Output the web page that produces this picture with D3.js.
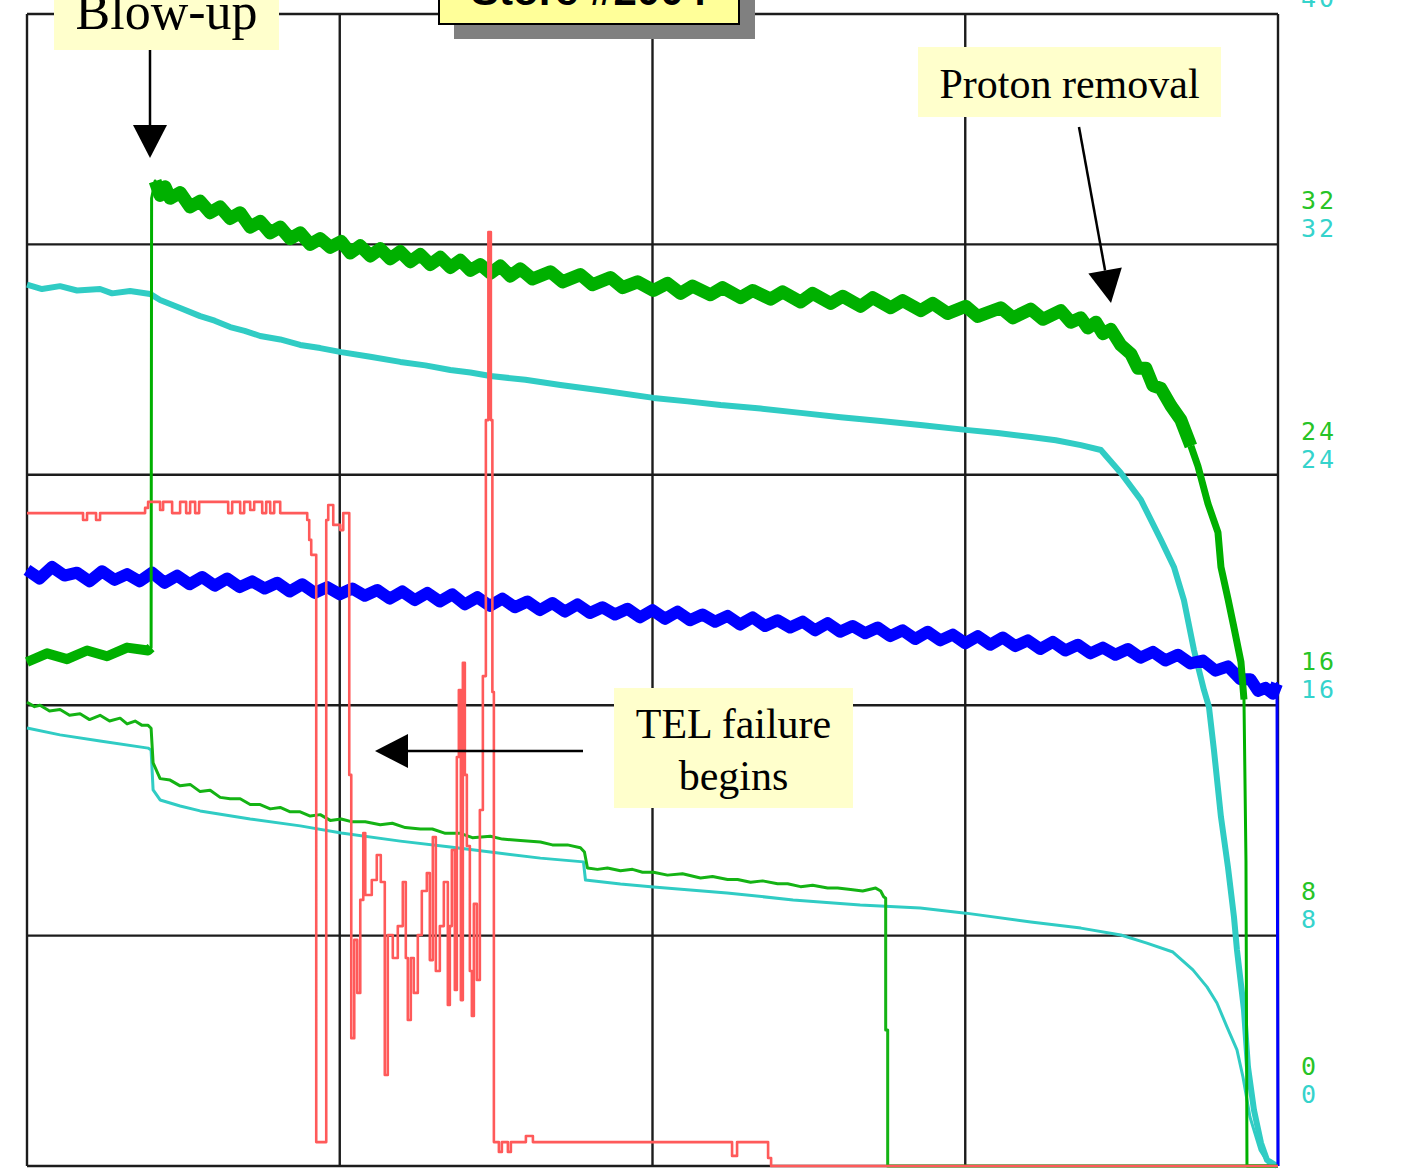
<!DOCTYPE html>
<html>
<head>
<meta charset="utf-8">
<script src="https://cdn.jsdelivr.net/npm/d3@7"></script>
<style>
  body { margin: 0; background: #fff; overflow: hidden; }
</style>
</head>
<body>
<div id="chart"></div>
<script>
// scope divisions: 4 across, 5 up; right-hand scale reads 0..40
const xDivisions = [0, 62.5, 125, 187.5, 250];
const yTicks = [0, 8, 16, 24, 32, 40];

// upper green trace (heavy noise), [time, value]
const greenUpper = [[0,17.5],[4,17.8],[8,17.6],[12,17.9],[16,17.7],[20,18.0],[24.2,17.9],[24.8,18.0],[24.9,33.6],
  [25.6,34.2],[26.6,33.7],[27.6,34.0],[28.6,33.6],[30.6,33.8],[32.6,33.3],[34.6,33.5],[36.6,33.1],[38.6,33.3],
  [40.6,32.9],[42.6,33.1],[44.6,32.6],[46.6,32.8],[48.6,32.4],[50.6,32.6],[52.6,32.2],[54.6,32.4],[56.6,32.0],
  [58.6,32.2],[60.6,31.9],[62.8,32.1],[64.6,31.7],[66.6,31.95],[68.6,31.6],[70.6,31.85],[72.6,31.5],[74.6,31.75],
  [76.6,31.4],[78.6,31.65],[80.6,31.3],[82.6,31.55],[84.6,31.2],[86.6,31.45],[88.6,31.1],[90.6,31.3],[92.6,31.0],
  [94.6,31.25],[96.6,30.9],[98.6,31.15],[101,30.8],[104.6,31.05],[107,30.7],[110.6,30.95],[113,30.6],[116.6,30.85],
  [119,30.5],[122,30.7],[125.2,30.4],[128,30.65],[130.6,30.3],[133,30.55],[136.6,30.25],[139,30.5],[142.6,30.15],
  [145,30.4],[148.6,30.1],[151,30.35],[154.6,30.0],[157,30.3],[160.6,29.95],[163,30.2],[166.6,29.85],[169,30.15],
  [172.6,29.8],[175,30.05],[178.6,29.7],[181,29.95],[184,29.6],[187.6,29.85],[190,29.5],[194.6,29.8],[197,29.45],
  [200.6,29.75],[203,29.4],[206.6,29.7],[208.6,29.3],[210.6,29.45],[212,29.1],[213.6,29.3],[215,28.9],[216.6,29.05],
  [218.6,28.5],[220.6,28.2],[222,27.7],[223.6,27.7],[225,27.1],[226.6,27.0],[228.6,26.4],[230.6,25.9],[232.6,25.0],
  [234,24.3],[236,23.0],[238,22.0],[238.6,20.8],[240,19.7],[241.2,18.7],[242.6,17.5],[243.2,16.2],[243.6,10.6],
  [243.8,0],[250,0]];

// upper cyan trace
const cyanUpper = [[0,30.6],[3,30.45],[6.6,30.55],[10,30.4],[14.6,30.45],[17,30.3],[20.6,30.38],[24.6,30.28],
  [26.6,30.07],[30.6,29.79],[34.6,29.51],[37.5,29.35],[40.6,29.13],[43.5,29.0],[46.6,28.82],[50.6,28.7],[54.6,28.51],
  [58.6,28.4],[62.8,28.26],[68.6,28.1],[74.6,27.92],[79.6,27.8],[84.6,27.64],[88.6,27.55],[92.6,27.43],[99.6,27.3],
  [106.6,27.12],[116,26.9],[125.2,26.67],[132,26.55],[138.6,26.42],[146.6,26.3],[154.6,26.15],[162.6,26.0],
  [170.6,25.87],[179,25.72],[187.6,25.56],[194,25.45],[200.6,25.31],[205.6,25.2],[210.6,25.03],[214.6,24.86],
  [218.6,24.06],[222.6,23.13],[226.6,21.74],[229.2,20.8],[231.2,19.65],[233.2,17.92],[235.2,16.53],[236.2,15.94],
  [237.2,14.44],[238.6,12.12],[240.0,10.38],[241.2,8.65],[241.8,7.5],[243.2,5.42],[244.0,3.44],[245.2,1.94],
  [246.6,0.8],[247.8,0.21],[249.8,0]];

// blue trace (heavy noise)
const blue = [[0,20.7],[2.5,20.4],[5,20.8],[7.5,20.5],[10,20.6],[12.5,20.3],[15,20.65],[17.5,20.35],[20,20.55],
  [22.5,20.3],[25,20.6],[27.5,20.25],[30,20.5],[32.5,20.2],[35,20.45],[37.5,20.15],[40,20.4],[42.5,20.1],[45,20.3],
  [47.5,20.05],[50,20.25],[52.5,19.95],[55,20.2],[57.5,19.9],[60,20.1],[62.5,19.85],[65,20.05],[67.5,19.8],[70,20.0],
  [72.5,19.7],[75,19.95],[77.5,19.65],[80,19.9],[82.5,19.6],[85,19.85],[87.5,19.5],[90,19.75],[92.5,19.45],[95,19.7],
  [97.5,19.4],[100,19.6],[102.5,19.3],[105,19.55],[107.5,19.25],[110,19.5],[112.5,19.2],[115,19.4],[117.5,19.15],
  [120,19.35],[122.5,19.05],[125,19.3],[127.5,19.0],[130,19.25],[132.5,18.95],[135,19.15],[137.5,18.9],[140,19.1],
  [142.5,18.8],[145,19.05],[147.5,18.75],[150,18.95],[152.5,18.7],[155,18.9],[157.5,18.6],[160,18.85],[162.5,18.55],
  [165,18.75],[167.5,18.5],[170,18.7],[172.5,18.4],[175,18.6],[177.5,18.3],[180,18.55],[182.5,18.25],[185,18.45],
  [187.5,18.15],[190,18.4],[192.5,18.1],[195,18.35],[197.5,18.05],[200,18.25],[202.5,17.95],[205,18.2],[207.5,17.9],
  [210,18.1],[212.5,17.8],[215,18.0],[217.5,17.75],[220,17.95],[222.5,17.65],[225,17.85],[227.5,17.55],[230,17.75],
  [232.5,17.45],[235,17.55],[237.5,17.2],[240,17.35],[242.5,16.9],[244.5,16.9],[246,16.5],[247.5,16.6],[249,16.4],
  [249.8,16.75],[250,0]];

// lower green trace
const greenLower = [[0,16.1],[1.5,15.95],[2.6,16.0],[4.5,15.8],[6.6,15.85],[8.5,15.65],[10.6,15.7],[12.5,15.5],
  [14.6,15.65],[16.5,15.45],[18.6,15.55],[20,15.35],[21.6,15.45],[23,15.3],[24.2,15.3],[24.8,15.2],[25.2,14.0],
  [26.6,13.45],[28.6,13.4],[30.6,13.2],[32.6,13.25],[34.6,13.0],[36.6,13.05],[38.6,12.8],[40.6,12.75],[42.6,12.75],
  [44.6,12.55],[46.6,12.55],[48.6,12.4],[50.6,12.45],[52.6,12.3],[54.6,12.3],[56.6,12.15],[58.6,12.2],[60.6,12.0],
  [62.8,12.05],[65,11.95],[67.6,11.95],[70.6,11.85],[73,11.9],[75.6,11.75],[78.6,11.7],[81,11.7],[83.6,11.55],
  [86.6,11.55],[89,11.4],[92.6,11.45],[95,11.35],[98.6,11.3],[102.6,11.25],[105,11.15],[108,11.15],[110.6,11.05],
  [111.4,10.9],[112,10.35],[114,10.3],[116,10.35],[118.6,10.25],[121,10.3],[123,10.2],[125.2,10.2],[128,10.1],
  [131,10.15],[134.6,10.0],[137,10.05],[140,9.95],[142,9.95],[144.6,9.85],[147,9.9],[150,9.8],[152,9.8],[154.6,9.7],
  [157,9.75],[160,9.65],[162,9.65],[164.6,9.6],[167,9.55],[169.6,9.65],[170.6,9.55],[171.2,9.35],[171.6,9.3],
  [171.6,4.72],[172,4.72],[172,0],[250,0]];

// lower cyan trace
const cyanLower = [[0,15.21],[6.6,14.97],[14.6,14.76],[24.2,14.51],[24.8,14.44],[25.2,13.06],[26.6,12.71],
  [30.6,12.5],[34.6,12.33],[44.6,12.05],[54.6,11.81],[62.8,11.56],[74.6,11.28],[84.6,11.08],[92.6,10.9],
  [102.6,10.69],[111.2,10.56],[111.6,9.93],[118.6,9.79],[125.2,9.69],[139.9,9.48],[153.1,9.24],[166.5,9.06],
  [178.5,8.96],[187.6,8.78],[200.6,8.47],[210.6,8.26],[218.6,8.02],[223.8,7.74],[229.0,7.43],[233.0,6.81],
  [235.8,6.22],[237.8,5.66],[239.8,4.83],[241.8,4.03],[243.0,3.09],[244.4,1.7],[246.4,0.56],[248.4,0],[250,0]];

// red trace, sampled/held (step after)
const red = [[0,22.67],[11.2,22.43],[12.0,22.67],[13.8,22.43],[14.6,22.67],[23.6,22.85],[24.2,23.06],[26.6,22.78],
  [27.2,23.06],[29.0,22.67],[30.6,23.06],[31.8,22.67],[32.6,23.06],[33.6,22.67],[34.4,23.06],[40.2,22.67],[41.0,23.06],
  [42.6,22.67],[43.4,23.06],[44.6,22.78],[45.4,23.06],[47.0,22.67],[47.8,23.06],[48.6,22.67],[49.4,23.06],[50.6,22.67],
  [56.0,22.43],[56.4,21.74],[56.8,21.22],[57.8,0.83],[59.8,22.43],[60.2,22.95],[61.2,22.26],[62.6,22.08],[63.2,22.67],
  [64.4,13.58],[64.8,4.44],[65.4,7.85],[66.0,6.01],[66.6,9.24],[67.2,11.56],[67.6,9.41],[68.9,9.93],[69.9,10.8],
  [70.7,9.86],[71.5,3.16],[72.1,8.02],[73.1,7.22],[74.1,8.33],[75.1,9.86],[75.7,7.22],[76.1,5.07],[76.7,7.22],
  [77.3,6.01],[78.1,8.02],[78.9,9.55],[79.9,10.17],[80.5,7.15],[81.1,11.42],[81.7,6.77],[82.5,8.33],[83.3,9.86],
  [84.1,5.59],[84.5,8.33],[84.9,10.97],[85.5,6.11],[85.9,14.2],[86.3,16.53],[86.7,5.76],[87.1,17.47],[87.5,13.58],
  [87.9,11.11],[88.5,6.77],[88.9,5.21],[89.3,9.1],[89.9,6.46],[90.5,12.36],[91.1,17.01],[91.7,25.9],[92.2,32.43],
  [92.7,25.9],[93.0,16.46],[93.3,0.83],[94.3,0.49],[94.9,0.83],[96.1,0.49],[96.7,0.83],[99.7,1.04],[101.1,0.83],
  [140.9,0.35],[141.9,0.83],[148.1,0.28],[148.7,0],[250,0]];

const W = 1428, H = 1171;
const x = d3.scaleLinear().domain([0, 250]).range([27, 1278]);
const y = d3.scaleLinear().domain([0, 40]).range([1166, 14]);

const svg = d3.select('#chart').append('svg')
    .attr('width', W)
    .attr('height', H);
svg.append('rect').attr('width', W).attr('height', H).attr('fill', '#fff');

// grid
const grid = svg.append('g').attr('stroke', '#1c1c1c').attr('stroke-width', 2.4);
grid.append('g').selectAll('line')
    .data(yTicks)
    .join('line')
    .attr('x1', x(0)).attr('x2', x(250))
    .attr('y1', d => y(d)).attr('y2', d => y(d));
grid.append('g').selectAll('line')
    .data(xDivisions)
    .join('line')
    .attr('y1', y(0)).attr('y2', y(40))
    .attr('x1', d => x(d)).attr('x2', d => x(d));

// right-hand channel scales (green above, cyan below)
const labels = svg.append('g')
    .attr('font-family', '"DejaVu Sans Mono", monospace')
    .attr('font-size', 25)
    .attr('letter-spacing', 3);
yTicks.forEach(v => {
    const base = v === 0 ? y(v) - 100 : y(v) - 44;
    labels.append('text').attr('x', 1301).attr('y', base).attr('dy', '0.35em')
        .attr('fill', '#27c427').text(v);
    labels.append('text').attr('x', 1301).attr('y', base + 28).attr('dy', '0.35em')
        .attr('fill', '#35d3cc').text(v);
});

const line = d3.line().x(d => x(d[0])).y(d => y(d[1]));
const stepLine = d3.line().x(d => x(d[0])).y(d => y(d[1])).curve(d3.curveStepAfter);

function trace(data, color, width, gen = line) {
    svg.append('path')
        .datum(data)
        .attr('d', gen)
        .attr('fill', 'none')
        .attr('stroke', color)
        .attr('stroke-width', width)
        .attr('stroke-linejoin', 'round');
}

trace(cyanLower, '#30ccc4', 3);
trace(greenLower, '#14b314', 3);
trace(cyanUpper, '#30ccc4', 6);

// heavy traces: thin everywhere, thick band where the signal is noisy
trace(blue, '#0000ff', 3);
trace(blue.filter(d => d[0] < 249.9), '#0000ff', 12);
trace(greenUpper, '#00b000', 3);
trace(greenUpper.filter(d => d[0] <= 24.8), '#00b000', 10);
trace(greenUpper.filter(d => d[0] >= 25.6 && d[0] <= 232.6), '#00b000', 13);
trace(greenUpper.filter(d => d[0] >= 232.6 && d[0] <= 243.2), '#00b000', 7);

trace(red, '#ff5a5a', 2.6, stepLine);

// annotations
const ann = svg.append('g');
const serif = '"Liberation Serif", "Times New Roman", serif';

function arrow(x1, y1, x2, y2) {
    const L = 33, hw = 17;
    const len = Math.hypot(x2 - x1, y2 - y1);
    const ux = (x2 - x1) / len, uy = (y2 - y1) / len;
    const bx = x2 - ux * L, by = y2 - uy * L;
    ann.append('line').attr('x1', x1).attr('y1', y1).attr('x2', bx).attr('y2', by)
        .attr('stroke', '#000').attr('stroke-width', 2.5);
    ann.append('path')
        .attr('d', `M${x2},${y2}L${bx - uy * hw},${by + ux * hw}L${bx + uy * hw},${by - ux * hw}Z`)
        .attr('fill', '#000');
}

function note(x0, y0, x1, y1, lines, size, baseline, gap) {
    ann.append('rect').attr('x', x0).attr('y', y0).attr('width', x1 - x0).attr('height', y1 - y0)
        .attr('fill', '#ffffcc');
    lines.forEach((t, i) => {
        ann.append('text').attr('x', (x0 + x1) / 2).attr('y', baseline + i * gap)
            .attr('text-anchor', 'middle').attr('font-family', serif).attr('font-size', size)
            .attr('fill', '#000').text(t);
    });
}

// title plate, cut off by the top edge
ann.append('rect').attr('x', 454).attr('y', -30).attr('width', 301).attr('height', 69).attr('fill', '#808080');
ann.append('rect').attr('x', 439).attr('y', -40).attr('width', 300).attr('height', 64)
    .attr('fill', '#ffff99').attr('stroke', '#000').attr('stroke-width', 2);
ann.append('text').attr('x', 589).attr('y', 5).attr('text-anchor', 'middle')
    .attr('font-family', '"Liberation Sans", Arial, sans-serif').attr('font-weight', 'bold')
    .attr('font-size', 42).attr('fill', '#000').text('Store #2004');

note(54, -10, 279, 50, ['Blow-up'], 52, 29, 0);
arrow(150, 50, 150, 158);

note(918, 47, 1221, 117, ['Proton removal'], 42, 98, 0);
arrow(1079, 127, 1111, 303);

note(614, 688, 853, 808, ['TEL failure', 'begins'], 42, 738, 52);
arrow(583, 751, 375, 751);
</script>
</body>
</html>
